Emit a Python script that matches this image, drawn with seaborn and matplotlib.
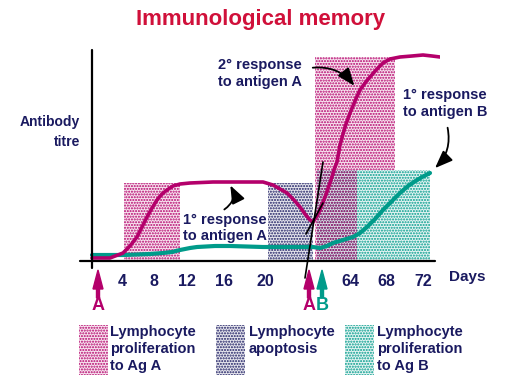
import numpy as np
import pandas as pd
import seaborn as sns
import matplotlib
matplotlib.use("Agg")
import matplotlib.pyplot as plt
from matplotlib.patches import Rectangle, FancyArrowPatch

sns.set_theme(style="white")
plt.rcParams["font.family"] = ["Liberation Sans", "DejaVu Sans"]
plt.rcParams["font.weight"] = "bold"
plt.rcParams["hatch.linewidth"] = 1.0

MAG = "#B4006B"
TEAL = "#009B8A"
NAVY = "#1A1A60"
RED = "#D0103A"

# ---------------- data (x = position along the broken time axis, y = titre) ----------------
tick_pos = [42, 74, 107, 144, 185, 270, 306, 343]
tick_days = ["4", "8", "12", "16", "20", "64", "68", "72"]

resp_a_x = [12, 30, 43, 50, 57, 62, 67, 72, 77, 82, 87, 93, 100, 110, 133, 160, 183, 193, 200,
            207, 214, 220, 225, 230, 233, 237, 240, 245, 250, 254, 257, 260, 265, 270, 275,
            280, 285, 290, 297, 303, 310, 320, 332, 343, 352, 360]
resp_a_y = [3, 3, 8, 15, 24, 34, 44, 53, 61, 67, 71, 75, 77, 78, 79, 79, 79, 76, 72, 68, 61,
            54, 47, 41, 39, 45, 51, 64, 78, 91, 99, 116, 134, 148, 160, 171, 178, 184, 192,
            198, 202, 204, 205, 206, 205, 204]

resp_b_x = [12, 43, 70, 83, 92, 100, 110, 117, 135, 150, 183, 210, 233, 240, 247, 253, 263,
            273, 280, 287, 295, 303, 312, 320, 328, 337, 344, 350]
resp_b_y = [6, 6, 7, 8, 9, 11, 13, 14, 15, 15, 14, 14, 14, 13, 15, 18, 21, 24, 28, 34, 42,
            51, 60, 68, 75, 81, 85, 88]

# shaded phases: (x start, x end, bottom titre, top titre)
prolif_a = [(44, 100, 0, 78), (235, 315, 91, 204), (235, 277, 0, 91)]
apoptosis = [(188, 233, 0, 78)]
prolif_b = [(237, 350, 0, 91)]

legend_labels = ["Lymphocyte\nproliferation\nto Ag A", "Lymphocyte\napoptosis",
                 "Lymphocyte\nproliferation\nto Ag B"]

df_a = pd.DataFrame({"x": resp_a_x, "y": resp_a_y})
df_b = pd.DataFrame({"x": resp_b_x, "y": resp_b_y})

# ---------------- figure ----------------
fig = plt.figure(figsize=(5.12, 3.84), dpi=100)
fig.patch.set_facecolor("white")

ax = fig.add_axes([80 / 512, (384 - 261) / 384, 360 / 512, 216 / 384])
ax.set_xlim(0, 360)
ax.set_ylim(0, 216)
ax.set_facecolor("none")
for s in ax.spines.values():
    s.set_visible(False)


def stipple(axis, x0, x1, y0, y1, color, z=1):
    axis.add_patch(Rectangle((x0, y0), x1 - x0, y1 - y0, facecolor=color, alpha=0.1,
                             edgecolor="none", zorder=z))
    axis.add_patch(Rectangle((x0, y0), x1 - x0, y1 - y0, facecolor="none", hatch="......",
                             edgecolor=color, linewidth=0, zorder=z))


for x0, x1, y0, y1 in prolif_b:
    stipple(ax, x0, x1, y0, y1, TEAL)
for x0, x1, y0, y1 in prolif_a:
    stipple(ax, x0, x1, y0, y1, MAG)
for x0, x1, y0, y1 in apoptosis:
    stipple(ax, x0, x1, y0, y1, NAVY)

sns.lineplot(data=df_b, x="x", y="y", ax=ax, color=TEAL, linewidth=3.0, sort=False,
             estimator=None, zorder=5)
sns.lineplot(data=df_a, x="x", y="y", ax=ax, color=MAG, linewidth=2.6, sort=False,
             estimator=None, zorder=6)

# axes lines
ax.plot([0, 355], [0, 0], color="black", linewidth=1.6, clip_on=False, zorder=7)
ax.plot([12, 12], [-7, 211], color="black", linewidth=1.6, clip_on=False, zorder=7)
# axis break marks
ax.plot([225, 243], [-17, 99], color="black", linewidth=1.2, clip_on=False, zorder=8)
ax.plot([226, 243], [27, 58], color="black", linewidth=1.2, clip_on=False, zorder=8)

ax.set_xticks(tick_pos)
ax.set_xticklabels(tick_days, color=NAVY, fontsize=11.5, fontweight="bold")
ax.tick_params(axis="x", length=0, pad=9)
ax.set_yticks([])
ax.set_xlabel("")
ax.set_ylabel("")

# ---------------- overlay in pixel coordinates ----------------
ov = fig.add_axes([0, 0, 1, 1])
ov.set_xlim(0, 512)
ov.set_ylim(384, 0)
ov.axis("off")
ov.set_facecolor("none")

ov.text(261, 19, "Immunological memory", color=RED, fontsize=16, fontweight="bold",
        ha="center", va="center")
ov.text(80, 122, "Antibody", color=NAVY, fontsize=10, ha="right", va="center")
ov.text(80, 142, "titre", color=NAVY, fontsize=10, ha="right", va="center")
ov.text(449, 277, "Days", color=NAVY, fontsize=11, ha="left", va="center")

ov.text(218, 65, "2° response", color=NAVY, fontsize=10.5, ha="left", va="center")
ov.text(218, 82, "to antigen A", color=NAVY, fontsize=10.5, ha="left", va="center")
ov.text(183, 220, "1° response", color=NAVY, fontsize=10.5, ha="left", va="center")
ov.text(183, 236, "to antigen A", color=NAVY, fontsize=10.5, ha="left", va="center")
ov.text(403, 95, "1° response", color=NAVY, fontsize=10.5, ha="left", va="center")
ov.text(403, 112, "to antigen B", color=NAVY, fontsize=10.5, ha="left", va="center")

arrow_kw = dict(arrowstyle="-|>,head_length=0.9,head_width=0.35", color="black",
                linewidth=1.3, mutation_scale=12, zorder=10)
ov.add_patch(FancyArrowPatch((310, 68), (356, 88), connectionstyle="arc3,rad=-0.3", **arrow_kw))
ov.add_patch(FancyArrowPatch((222, 211), (229, 183), connectionstyle="arc3,rad=0.5", **arrow_kw))
ov.add_patch(FancyArrowPatch((447, 125), (433, 170), connectionstyle="arc3,rad=-0.3", **arrow_kw))

# antigen arrows
for xp, col in [(98, MAG), (309, MAG), (322, TEAL)]:
    ov.arrow(xp, 298, 0, -28, width=3, head_width=10, head_length=19,
             length_includes_head=True, color=col, zorder=10)
ov.text(98, 306, "A", color=MAG, fontsize=13, ha="center", va="center")
ov.text(309, 306, "A", color=MAG, fontsize=13, ha="center", va="center")
ov.text(322, 306, "B", color=TEAL, fontsize=13, ha="center", va="center")

# legend
for (sx, tx), col, lab in zip([(79, 110), (216, 249), (345, 377)], [MAG, NAVY, TEAL],
                              legend_labels):
    stipple(ov, sx, sx + 29, 325, 375, col)
    for i, line in enumerate(lab.split("\n")):
        ov.text(tx, 332 + 17 * i, line, color=NAVY, fontsize=10.5, ha="left", va="center")

fig.savefig("out.png", dpi=100)
